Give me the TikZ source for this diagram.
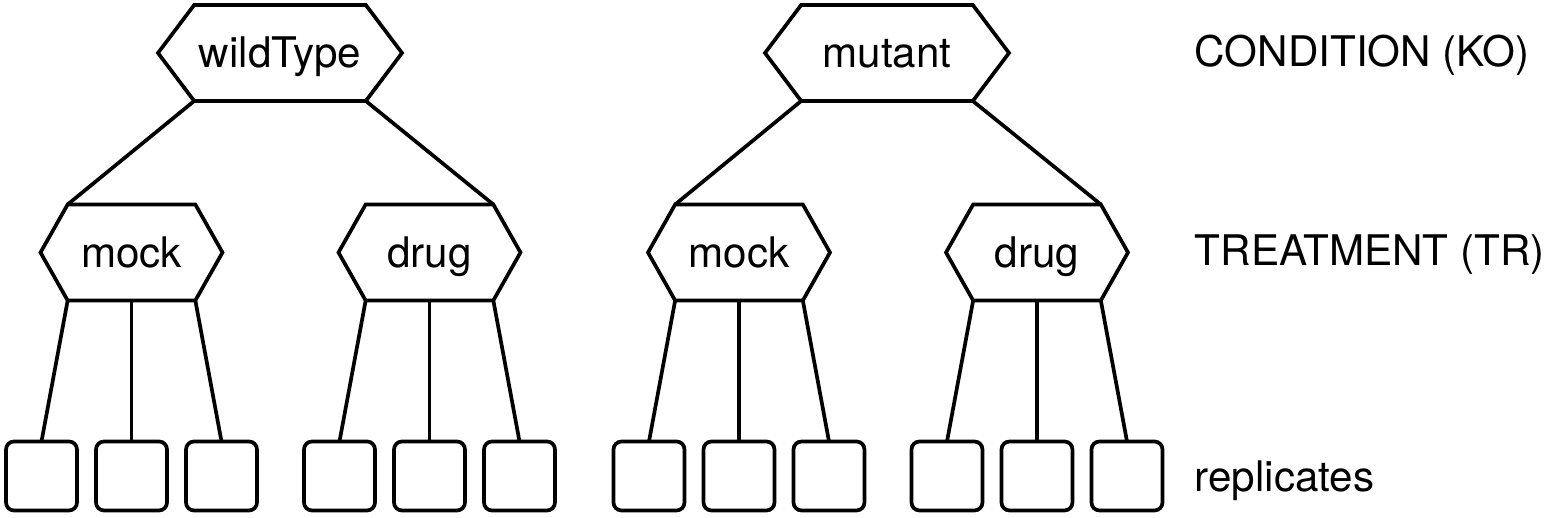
\documentclass[tikz,border=0pt]{standalone}
\usepackage{fontspec}
\setmainfont{TeX Gyre Heros}
\usetikzlibrary{shapes.symbols}

\begin{document}
\begin{tikzpicture}
	[%
	cond/.style ={signal,	signal to=east and west,	signal pointer angle=106,	draw=black,	inner sep=0pt,	outer sep=0pt,	text height=0.3cm,	text depth=0pt,	minimum width=2.44cm,	minimum height=0.96cm},%
	treat/.style={signal,	signal to=east and west,	signal pointer angle=121,	draw=black,	inner sep=0pt,	outer sep=0pt,	text height=0.3cm,	text depth=0pt,	minimum width=1.82cm,	minimum height=0.96cm},%
	rep/.style  ={rectangle,	rounded corners=0.08cm,	draw=black,	inner sep=0pt,	outer sep=0pt,	minimum width=0.71cm,	minimum height=0.69cm},%
	lbl/.style  ={anchor=west,	inner sep=0pt},%
	line width=1.05pt, font=\fontsize{12}{14}\selectfont
	]
	\useasboundingbox (0,0) rectangle (15.64,5.18);

	\newcommand{\lko}{4.65}
	\newcommand{\ltr}{2.655}
	\newcommand{\lrep}{0.42}

	% nodes
	\node (wildType) at (2.80,\lko) [cond] {wildType};
	\node (mutant)   at (8.87,\lko) [cond] {mutant};

	\foreach \g/\x/\t in {wtmock/1.315/mock, wtdrug/4.295/drug, mutmock/7.39/mock, mutdrug/10.37/drug}%
		\node (\g) at (\x,\ltr) [treat] {\t};

	\foreach \g/\x in {wtmock/1.315, wtdrug/4.295, mutmock/7.39, mutdrug/10.37}%
		\foreach \i in {1,2,3} \node (\g_\i) at ({\x+0.9*(\i-2)},\lrep) [rep] {};

	\node (ko)  at (11.93,4.63)  [lbl] {CONDITION (KO)};
	\node (tr)  at (11.93,2.63)  [lbl] {TREATMENT (TR)};
	\node (rep) at (11.93,0.375) [lbl] {replicates};

	% interconnections
	\draw (wildType.south west) -- (wtmock.north west);
	\draw (wildType.south east) -- (wtdrug.north east);
	\draw (mutant.south west)   -- (mutmock.north west);
	\draw (mutant.south east)   -- (mutdrug.north east);

	\foreach \g in {wtmock, wtdrug, mutmock, mutdrug}{%
		\draw (\g.south west) -- (\g_1.north);
		\draw (\g.south)      -- (\g_2.north);
		\draw (\g.south east) -- (\g_3.north);
	}
\end{tikzpicture}
\end{document}
